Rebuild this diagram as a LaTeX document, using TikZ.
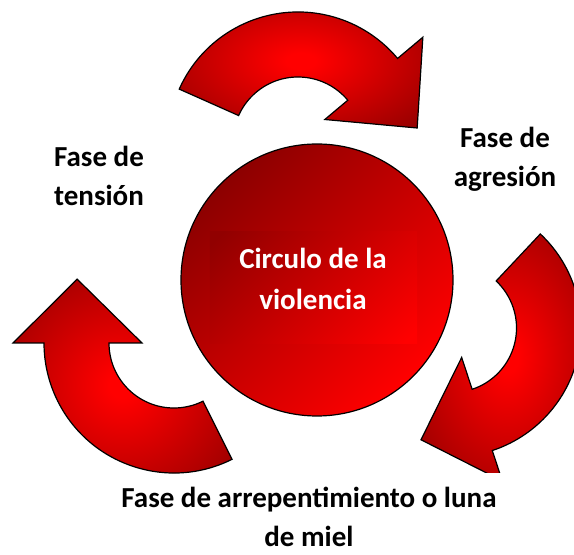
\documentclass[tikz,border=0pt]{standalone}
\usepackage{fontspec}
\setmainfont{Carlito}
\definecolor{arrdark}{RGB}{150,0,0}
\definecolor{arrbright}{RGB}{255,0,0}
\definecolor{circdark}{RGB}{140,0,0}
\definecolor{boxdark}{RGB}{145,0,0}
\pgfdeclareradialshading{arrowglow}{\pgfpoint{0bp}{0bp}}{color(0bp)=(arrbright); color(3bp)=(arrbright); color(34bp)=(arrdark); color(100bp)=(arrdark)}
\begin{document}
\begin{tikzpicture}[x=1pt,y=1pt,
  arrowshape/.style={shading=arrowglow, draw=black, line width=1.2pt, line join=miter},
  phase/.style={font=\bfseries\fontsize{29}{39}\selectfont, align=center, anchor=base, text=black, inner sep=0pt},
]
\useasboundingbox (0,0) rectangle (574,555);

% top arrow
\shade[arrowshape, shift={(298,413)}]
  (156:130pt) arc[start angle=156, end angle=40, radius=130pt]
  -- (40:163pt) -- (6.7:120pt) -- (40:35pt) -- (40:65pt)
  arc[start angle=40, end angle=156, radius=65pt] -- cycle;

% right arrow (cut at the bottom)
\begin{scope}
\clip (0,82) rectangle (574,555);
\shade[arrowshape, shift={(452,227)}]
  (46.8:129pt) arc[start angle=46.8, end angle=-71.8, radius=129pt]
  -- (-71.8:161pt) -- (-105.5:116pt) -- (-71.8:31pt) -- (-71.8:64.5pt)
  arc[start angle=-71.8, end angle=46.8, radius=64.5pt] -- cycle;
\end{scope}

% left arrow
\shade[arrowshape, shift={(174,212)}]
  (296.5:130pt) arc[start angle=296.5, end angle=180, radius=130pt]
  -- (180:161pt) -- (146.6:116pt) -- (180:32pt) -- (180:65pt)
  arc[start angle=180, end angle=296.5, radius=65pt] -- cycle;

% central circle
\node[circle, draw=black, line width=1.2pt, minimum size=272pt, inner sep=0pt,
      top color=circdark, bottom color=arrbright, shading angle=45] (main) at (317,275) {};
% text box inside the circle
\node[rectangle, minimum width=207pt, minimum height=111pt, inner sep=0pt] (box) at (313.5,267.5) {};
\begin{scope}
\clip (box.south west) rectangle (box.north east);
\shade[top color=boxdark, bottom color=arrbright, shading angle=45]
  ([shift={(-104,-104)}]box.center) rectangle ([shift={(104,104)}]box.center);
\end{scope}
\node[phase, text=white, font=\bfseries\fontsize{29}{41}\selectfont] (title) at (313,245) {Circulo de la\\violencia};

% phase labels
\node[phase] (tension) at (99,349) {Fase de\\tensión};
\node[phase] (agresion) at (505,368) {Fase de\\agresión};
\node[phase] (miel) at (309,8.5) {Fase de arrepentimiento o luna\\de miel};
\end{tikzpicture}
\end{document}
